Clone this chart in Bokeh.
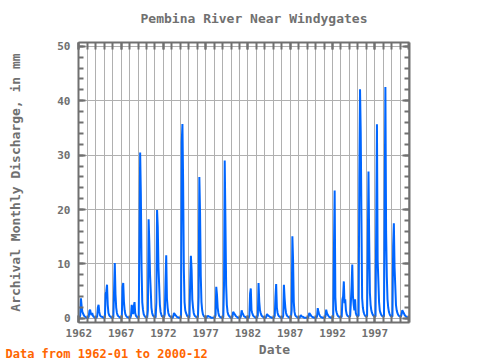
from bokeh.plotting import figure
from bokeh.models import (LinearAxis, FixedTicker, Range1d, ColumnDataSource)
from bokeh.layouts import column
from bokeh.core.properties import value
from bokeh.embed import file_html
from bokeh.resources import INLINE

title_text = "Pembina River Near Windygates"
y_label = "Archival Monthly Discharge, in mm"
x_label = "Date"
note_text = "Data from 1962-01 to 2000-12"

start_year = 1962
year_ticks = [1962, 1967, 1972, 1977, 1982, 1987, 1992, 1997]
value_ticks = [0, 10, 20, 30, 40, 50]

flow_1960s = [
    0.05, 0.1, 0.6, 3.7, 2.2, 1.2, 0.9, 0.6, 0.4, 0.3, 0.2, 0.1,      # 1962
    0.1, 0.1, 0.3, 1.4, 1.6, 0.9, 0.6, 1.0, 0.5, 0.3, 0.2, 0.1,       # 1963
    0.1, 0.1, 0.4, 2.0, 2.5, 1.2, 0.6, 0.4, 0.3, 0.3, 0.2, 0.1,       # 1964
    0.1, 0.2, 4.5, 5.0, 6.2, 2.5, 1.0, 0.6, 0.4, 0.3, 0.2, 0.1,       # 1965
    0.1, 0.2, 5.2, 10.2, 4.5, 2.0, 1.0, 0.6, 0.4, 0.3, 0.2, 0.1,      # 1966
    0.1, 0.2, 5.8, 6.5, 3.0, 1.5, 0.8, 0.5, 0.3, 0.2, 0.2, 0.1,       # 1967
    0.1, 0.1, 0.5, 2.5, 1.2, 0.8, 2.2, 3.0, 1.0, 0.5, 0.3, 0.2,       # 1968
    0.1, 0.2, 15.0, 30.5, 22.8, 9.4, 3.0, 1.6, 0.8, 0.5, 0.3, 0.2,    # 1969
]
flow_1970s = [
    0.2, 0.2, 1.5, 18.2, 14.0, 8.2, 5.2, 2.0, 1.0, 0.6, 0.4, 0.3,     # 1970
    0.2, 0.2, 3.0, 19.9, 16.8, 9.4, 6.0, 2.5, 1.2, 0.7, 0.4, 0.3,     # 1971
    0.2, 0.2, 0.8, 6.8, 11.6, 3.7, 2.0, 1.0, 0.6, 0.4, 0.3, 0.2,      # 1972
    0.1, 0.1, 0.4, 1.0, 0.8, 0.6, 0.5, 0.3, 0.2, 0.2, 0.1, 0.1,       # 1973
    0.1, 0.2, 32.3, 35.7, 24.9, 9.0, 3.0, 1.5, 1.0, 0.7, 0.4, 0.3,    # 1974
    0.2, 0.2, 6.8, 11.5, 9.0, 3.5, 2.0, 1.0, 0.6, 0.4, 0.3, 0.2,      # 1975
    0.2, 0.2, 4.0, 26.0, 19.4, 7.9, 3.0, 1.5, 0.8, 0.5, 0.3, 0.2,     # 1976
    0.1, 0.1, 0.3, 0.5, 0.4, 0.3, 0.3, 0.2, 0.1, 0.1, 0.1, 0.1,       # 1977
    0.1, 0.1, 0.6, 5.8, 4.4, 2.0, 1.0, 0.5, 0.3, 0.2, 0.2, 0.1,       # 1978
    0.1, 0.2, 6.2, 29.0, 18.0, 6.2, 2.5, 1.2, 0.7, 0.5, 0.3, 0.2,     # 1979
]
flow_1980s = [
    0.1, 0.1, 0.3, 1.2, 1.0, 0.8, 0.6, 0.4, 0.3, 0.2, 0.1, 0.1,       # 1980
    0.1, 0.1, 0.4, 1.5, 1.0, 0.8, 0.5, 0.3, 0.3, 0.2, 0.1, 0.1,       # 1981
    0.1, 0.1, 0.5, 4.6, 5.5, 1.5, 1.0, 0.6, 0.4, 0.3, 0.2, 0.1,       # 1982
    0.1, 0.1, 0.6, 6.5, 3.1, 1.5, 1.0, 0.6, 0.4, 0.3, 0.2, 0.1,       # 1983
    0.1, 0.1, 0.3, 0.8, 0.6, 0.5, 0.4, 0.3, 0.2, 0.2, 0.1, 0.1,       # 1984
    0.1, 0.1, 0.5, 3.9, 6.3, 2.0, 1.0, 0.6, 0.4, 0.3, 0.2, 0.1,       # 1985
    0.1, 0.1, 0.5, 6.2, 3.7, 2.0, 1.0, 0.6, 0.4, 0.3, 0.2, 0.1,       # 1986
    0.1, 0.2, 1.5, 15.1, 10.7, 3.0, 1.2, 0.6, 0.4, 0.3, 0.2, 0.1,     # 1987
    0.1, 0.1, 0.3, 0.6, 0.4, 0.3, 0.3, 0.2, 0.1, 0.1, 0.1, 0.1,       # 1988
    0.1, 0.1, 0.3, 1.0, 0.8, 0.6, 0.4, 0.3, 0.2, 0.2, 0.1, 0.1,       # 1989
]
flow_1990s = [
    0.1, 0.1, 0.4, 1.9, 1.2, 0.8, 0.5, 0.3, 0.2, 0.2, 0.1, 0.1,       # 1990
    0.1, 0.1, 0.4, 1.6, 1.0, 0.7, 0.5, 0.3, 0.2, 0.2, 0.1, 0.1,       # 1991
    0.1, 0.2, 12.8, 23.5, 3.9, 1.5, 1.0, 0.6, 0.4, 0.3, 0.2, 0.2,     # 1992
    0.2, 0.3, 3.5, 4.1, 6.8, 2.8, 3.5, 1.5, 0.8, 0.5, 0.4, 0.3,       # 1993
    0.3, 0.4, 3.0, 5.9, 9.9, 4.0, 2.5, 1.5, 3.5, 1.0, 0.6, 0.4,       # 1994
    0.4, 0.5, 25.5, 42.1, 34.1, 18.6, 3.7, 2.0, 1.2, 0.8, 0.5, 0.4,   # 1995
    0.3, 0.4, 13.3, 27.0, 14.5, 4.7, 2.5, 1.5, 1.0, 0.7, 0.5, 0.4,    # 1996
    0.3, 0.4, 17.6, 35.7, 10.7, 7.0, 3.0, 1.5, 1.0, 0.7, 0.5, 0.4,    # 1997
    0.3, 0.4, 22.4, 42.5, 15.9, 7.8, 3.5, 2.0, 1.2, 0.8, 0.5, 0.4,    # 1998
    0.3, 0.4, 13.3, 17.5, 9.4, 6.0, 2.5, 1.5, 1.0, 0.7, 0.5, 0.4,     # 1999
]
flow_2000s = [
    0.3, 0.3, 0.8, 1.5, 1.2, 1.0, 0.7, 0.5, 0.4, 0.3, 0.2, 0.1,       # 2000
]

flow = flow_1960s + flow_1970s + flow_1980s + flow_1990s + flow_2000s
dates = [start_year + i / 12.0 for i in range(len(flow))]
all_years = list(range(1962, 2002))

GRAY = "#707070"
FONT = "DejaVu Sans Mono"
W = 480


def text_strip(height):
    f = figure(width=W, height=height, output_backend="svg", toolbar_location=None,
               x_range=Range1d(0, W), y_range=Range1d(0, height),
               x_axis_location=None, y_axis_location=None, min_border=0)
    f.frame_align = False
    f.outline_line_color = None
    f.xgrid.visible = False
    f.ygrid.visible = False
    f.background_fill_color = "white"
    f.border_fill_color = "white"
    return f


# --- title strip ---
top_strip = text_strip(30)
top_strip.text(x=[253.5], y=[12], text=[title_text], text_font=value(FONT),
               text_font_size="13px", text_font_style="bold", text_color=GRAY,
               text_align="center", text_baseline="alphabetic")

# --- main chart ---
p = figure(width=W, height=312, output_backend="svg", toolbar_location=None,
           x_range=Range1d(1961.96, 2001.1), y_range=Range1d(-0.75, 50.7),
           x_axis_location=None, y_axis_location=None,
           min_border_left=78, min_border_right=71, min_border_top=12,
           min_border_bottom=20)
p.frame_align = False
p.outline_line_color = None
p.background_fill_color = "white"
p.border_fill_color = "white"

src = ColumnDataSource(dict(x=dates, y=flow))
p.line("x", "y", source=src, line_color="#0066ff", line_width=2)


def style_axis(ax, labels=True):
    ax.axis_line_color = GRAY
    ax.axis_line_width = 2
    ax.major_tick_line_color = GRAY
    ax.minor_tick_line_color = GRAY
    ax.major_tick_line_width = 2
    ax.minor_tick_line_width = 2
    ax.major_tick_in = 7
    ax.major_tick_out = 0
    ax.minor_tick_in = 7
    ax.minor_tick_out = 0
    ax.major_label_text_font = FONT
    ax.major_label_text_font_size = "11px"
    ax.major_label_text_font_style = "bold"
    ax.major_label_text_color = GRAY
    if not labels:
        ax.major_label_text_font_size = "0px"
        ax.major_label_text_alpha = 0
        ax.major_label_standoff = 0


xt = FixedTicker(ticks=year_ticks, minor_ticks=all_years)
yt = FixedTicker(ticks=value_ticks, minor_ticks=list(range(0, 52, 2)))

bottom = LinearAxis(ticker=xt)
style_axis(bottom)
bottom.major_label_standoff = 6
p.add_layout(bottom, "below")

top = LinearAxis(ticker=xt)
style_axis(top, labels=False)
p.add_layout(top, "above")

left = LinearAxis(ticker=yt)
style_axis(left)
left.minor_tick_in = 5
left.major_label_standoff = 8
left.axis_label = y_label
left.axis_label_text_font = FONT
left.axis_label_text_font_size = "13px"
left.axis_label_text_font_style = "bold"
left.axis_label_text_color = GRAY
left.axis_label_standoff = 31
p.add_layout(left, "left")

right = LinearAxis(ticker=yt)
style_axis(right, labels=False)
right.minor_tick_in = 5
p.add_layout(right, "right")

p.xgrid.ticker = xt
p.ygrid.ticker = yt
p.xgrid.grid_line_color = "#b0b0b0"
p.xgrid.minor_grid_line_color = "#b0b0b0"
p.ygrid.grid_line_color = "#b0b0b0"
p.xgrid.grid_line_width = 1
p.ygrid.grid_line_width = 1

# --- bottom strip: axis title and data note ---
bot_strip = text_strip(18)
bot_strip.text(x=[274], y=[11], text=[x_label], text_font=value(FONT),
               text_font_size="13px", text_font_style="bold", text_color=GRAY,
               text_align="center", text_baseline="alphabetic")
bot_strip.text(x=[5], y=[7], text=[note_text], text_font=value(FONT),
               text_font_size="12px", text_font_style="bold", text_color="#ff6600",
               text_align="left", text_baseline="alphabetic")

layout = column(top_strip, p, bot_strip, spacing=0)
open("out.html", "w").write(file_html(layout, INLINE))
